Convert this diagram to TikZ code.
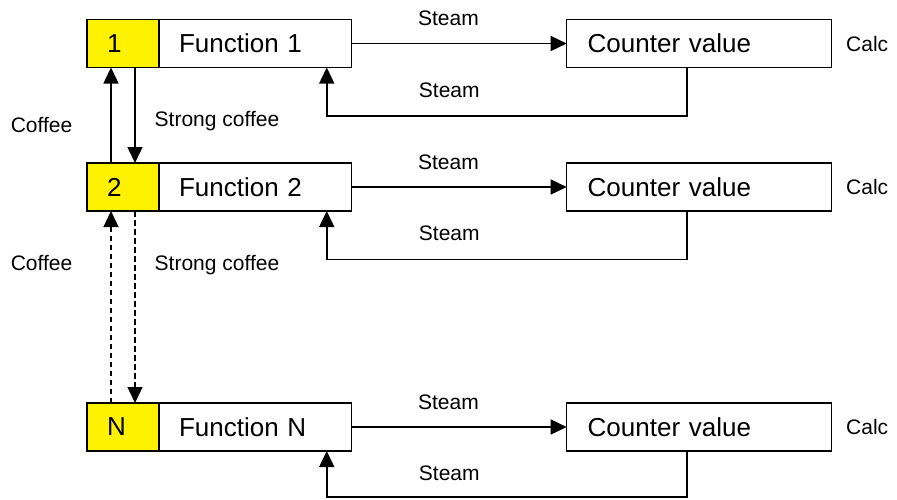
\documentclass[tikz,border=0pt]{standalone}
\usepackage{fontspec}
\setmainfont{Liberation Sans}
\usetikzlibrary{positioning,arrows.meta}
\tikzset{
  numbox/.style={draw, line width=1.5pt, outer sep=0pt, fill=yellow,
    minimum height=48pt, inner xsep=20pt, text width=32pt, align=left,
    font=\fontsize{26}{30}\selectfont},
  funcbox/.style={numbox, fill=white, text width=152.7pt},
  valbox/.style={numbox, fill=white, inner xsep=21pt, text width=223pt},
  lbl/.style={font=\fontsize{21}{25}\selectfont},
  flow/.style={line width=1.5pt, -{Triangle[length=16pt,width=15pt]}},
  weakflow/.style={flow, line width=1.3pt, dash pattern=on 5.5pt off 3.5pt},
}
\begin{document}
\begin{tikzpicture}[x=1pt, y=-1pt]
      \useasboundingbox (0,0) rectangle (897,499);
      % row 1
      \node[numbox] (y1) at (123,43.5) {1};
      \node[funcbox, right=0pt of y1] (f1) {Function 1};
      \node[valbox, right=215pt of f1] (c1) {Counter value};
      \node[lbl, right=11pt of c1] (k1) {Calc};
      % row 2
      \node[numbox, below=95.5pt of y1] (y2) {2};
      \node[funcbox, right=0pt of y2] (f2) {Function 2};
      \node[valbox, right=215pt of f2] (c2) {Counter value};
      \node[lbl, right=11pt of c2] (k2) {Calc};
      % row N
      \node[numbox, below=192pt of y2] (yN) {N};
      \node[funcbox, right=0pt of yN] (fN) {Function N};
      \node[valbox, right=215pt of fN] (cN) {Counter value};
      \node[lbl, right=11pt of cN] (kN) {Calc};
      % steam in and out
      \draw[flow] (f1) -- node[lbl, pos=0.45, yshift=25pt] (s1a) {Steam} (c1);
      \draw[flow] ([xshift=-12pt]c1.south) -- ++(0,48.5)
        -| node[lbl, pos=0.33, yshift=26pt] (s1b) {Steam} ([xshift=71.4pt]f1.south);
      \draw[flow] (f2) -- node[lbl, pos=0.45, yshift=25pt] (s2a) {Steam} (c2);
      \draw[flow] ([xshift=-12pt]c2.south) -- ++(0,48.5)
        -| node[lbl, pos=0.33, yshift=26pt] (s2b) {Steam} ([xshift=71.4pt]f2.south);
      \draw[flow] (fN) -- node[lbl, pos=0.45, yshift=25pt] (sNa) {Steam} (cN);
      \draw[flow] ([xshift=-12pt]cN.south) -- ++(0,46)
        -| node[lbl, pos=0.33, yshift=24pt] (sNb) {Steam} ([xshift=71.4pt]fN.south);
      % coffee between the numbers
      \draw[flow] ([xshift=-12pt]y2.north) -- ([xshift=-12pt]y1.south);
      \draw[flow] ([xshift=12pt]y1.south) -- ([xshift=12pt]y2.north);
      \draw[weakflow] ([xshift=-12pt]yN.north) -- ([xshift=-12pt]y2.south);
      \draw[weakflow] ([xshift=12pt]y2.south) -- ([xshift=12pt]yN.north);
      \node[lbl] (co1) at (41.5,125) {Coffee};
      \node[lbl] (sc1) at (217,121) {Strong coffee};
      \node[lbl] (co2) at (41.5,263) {Coffee};
      \node[lbl] (sc2) at (217,265) {Strong coffee};
    \end{tikzpicture}
\end{document}
